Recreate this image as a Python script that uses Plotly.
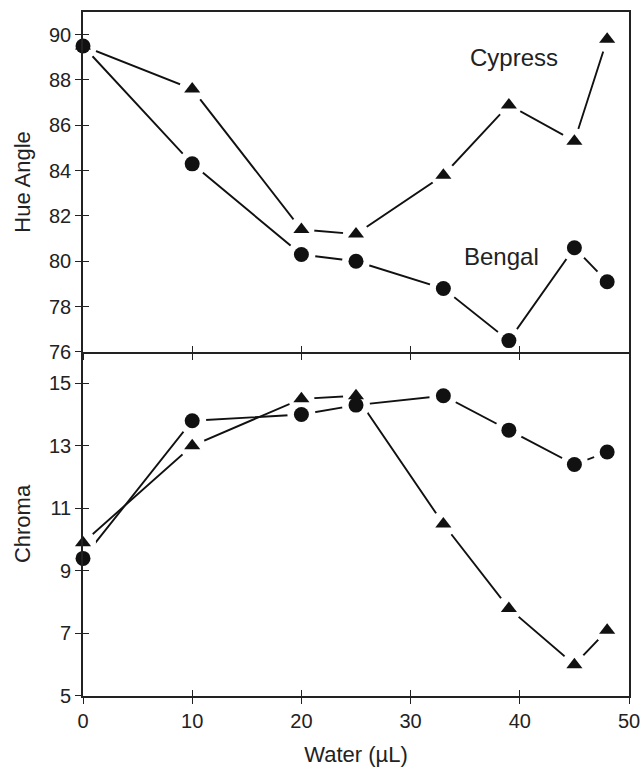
import plotly.graph_objects as go

# ---- data ----
water = [0, 10, 20, 25, 33, 39, 45, 48]
cypress_hue = [89.5, 87.6, 81.4, 81.2, 83.8, 86.9, 85.3, 89.8]
bengal_hue = [89.5, 84.3, 80.3, 80.0, 78.8, 76.5, 80.6, 79.1]
cypress_chroma = [9.9, 13.0, 14.5, 14.6, 10.5, 7.8, 6.0, 7.1]
bengal_chroma = [9.4, 13.8, 14.0, 14.3, 14.6, 13.5, 12.4, 12.8]

x_ticks = [0, 10, 20, 30, 40, 50]
hue_ticks = [76, 78, 80, 82, 84, 86, 88, 90]
chroma_ticks = [5, 7, 9, 11, 13, 15]

FONT = "Liberation Sans, Arial, Helvetica, sans-serif"
INK = "#111111"
AX = "#222222"

fig = go.Figure()

panels = [
    ("x", "y", cypress_hue, bengal_hue),
    ("x2", "y2", cypress_chroma, bengal_chroma),
]

# lines
for xa, ya, cyp, ben in panels:
    for vals in (cyp, ben):
        fig.add_trace(go.Scatter(x=water, y=vals, xaxis=xa, yaxis=ya, mode="lines",
                                 line=dict(color=INK, width=1.9), cliponaxis=False,
                                 showlegend=False, hoverinfo="skip"))
# white halos (gaps between line and marker)
for xa, ya, cyp, ben in panels:
    fig.add_trace(go.Scatter(x=water, y=cyp, xaxis=xa, yaxis=ya, mode="markers",
                             marker=dict(color="#ffffff", size=26, symbol="circle",
                                         line=dict(width=0)),
                             cliponaxis=False, showlegend=False, hoverinfo="skip"))
    fig.add_trace(go.Scatter(x=water, y=ben, xaxis=xa, yaxis=ya, mode="markers",
                             marker=dict(color="#ffffff", size=28, symbol="circle",
                                         line=dict(width=0)),
                             cliponaxis=False, showlegend=False, hoverinfo="skip"))
# markers
for xa, ya, cyp, ben in panels:
    fig.add_trace(go.Scatter(x=water, y=cyp, xaxis=xa, yaxis=ya, mode="markers",
                             marker=dict(color=INK, size=14, symbol="triangle-up"),
                             cliponaxis=False, showlegend=False, name="Cypress"))
    fig.add_trace(go.Scatter(x=water, y=ben, xaxis=xa, yaxis=ya, mode="markers",
                             marker=dict(color=INK, size=15, symbol="circle"),
                             cliponaxis=False, showlegend=False, name="Bengal"))

# invisible traces for overlay axes (inner halves of crossing ticks)
for xa, ya in (("x3", "y3"), ("x4", "y4")):
    fig.add_trace(go.Scatter(x=[None], y=[None], xaxis=xa, yaxis=ya, mode="markers",
                             showlegend=False, hoverinfo="skip"))

top_dom = [0.503, 1.0]
bot_dom = [0.0, 0.503]
xr = [0, 50]
hr = [76, 91]
cr = [5, 16]

axis_common = dict(showgrid=False, zeroline=False, linecolor=AX, linewidth=1.6,
                   tickcolor=AX, tickwidth=1.4, ticklen=6, automargin=False,
                   tickfont=dict(family=FONT, size=20, color=AX))
title_font = dict(family=FONT, size=22, color=AX)

fig.update_layout(
    width=642, height=767,
    margin=dict(l=83, r=13, t=12, b=71),
    paper_bgcolor="white", plot_bgcolor="white",
    xaxis=dict(domain=[0, 1], anchor="y", range=xr, tickvals=x_ticks,
               showticklabels=False, ticks="outside", showline=True, mirror=True,
               **axis_common),
    yaxis=dict(domain=top_dom, anchor="x", range=hr, tickvals=hue_ticks,
               ticks="outside", showline=True, mirror=True,
               title=dict(text="Hue Angle", font=title_font, standoff=12),
               **axis_common),
    xaxis2=dict(domain=[0, 1], anchor="y2", range=xr, tickvals=x_ticks,
                ticks="outside", showline=True, mirror=False,
                title=dict(text="Water (µL)", font=title_font, standoff=16),
                **axis_common),
    yaxis2=dict(domain=bot_dom, anchor="x2", range=cr, tickvals=chroma_ticks,
                ticks="outside", showline=True, mirror=True,
                title=dict(text="Chroma", font=title_font, standoff=12),
                **axis_common),
    xaxis3=dict(overlaying="x", anchor="y", range=xr, tickvals=x_ticks,
                showticklabels=False, ticks="inside", showline=False, **axis_common),
    yaxis3=dict(overlaying="y", anchor="x", range=hr, tickvals=hue_ticks,
                showticklabels=False, ticks="inside", showline=False, **axis_common),
    xaxis4=dict(overlaying="x2", anchor="y2", range=xr, tickvals=x_ticks,
                showticklabels=False, ticks="inside", showline=False, **axis_common),
    yaxis4=dict(overlaying="y2", anchor="x2", range=cr, tickvals=chroma_ticks,
                showticklabels=False, ticks="inside", showline=False, **axis_common),
    annotations=[
        dict(text="Cypress", x=39.5, y=89.0, xref="x", yref="y", showarrow=False,
             font=dict(family=FONT, size=24, color=AX)),
        dict(text="Bengal", x=38.3, y=80.2, xref="x", yref="y", showarrow=False,
             font=dict(family=FONT, size=24, color=AX)),
    ],
)

fig.write_html("out.html")
